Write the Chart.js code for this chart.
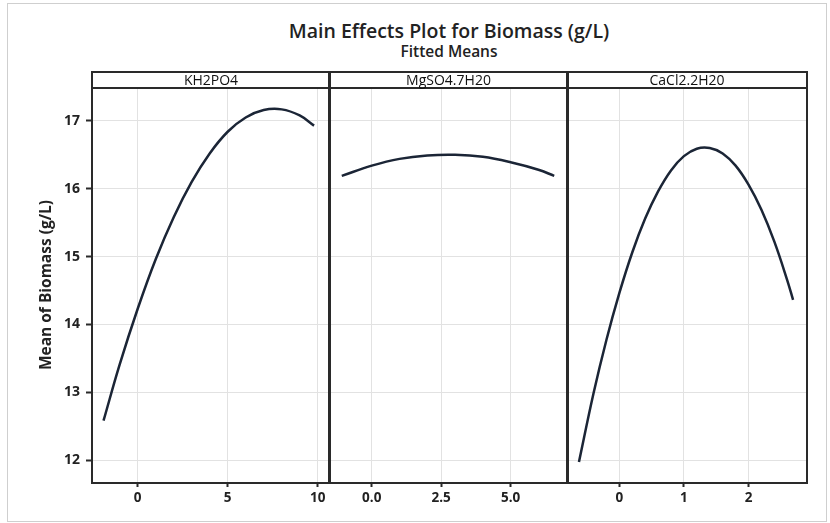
<!DOCTYPE html>
<html><head><meta charset="utf-8">
<script src="https://cdn.jsdelivr.net/npm/chart.js@4.4.1/dist/chart.umd.min.js"></script>
<style>
body{margin:0;background:#fff;width:830px;height:523px;position:relative;overflow:hidden;font-family:"Open Sans",sans-serif;}
.abs{position:absolute;}
#border{left:7px;top:3px;width:820px;height:519px;border:1px solid #cfcfcf;box-sizing:border-box;}
#title{left:92px;width:714px;top:19px;text-align:center;font-size:19.5px;font-weight:600;color:#222;line-height:24px;}
#subtitle{left:92px;width:714px;top:42px;text-align:center;font-size:15.5px;font-weight:600;color:#222;line-height:19px;}
.strip{top:71px;height:18px;border:2px solid #2a2a2a;box-sizing:border-box;text-align:center;font-size:14px;line-height:14px;color:#111;}
.frame{top:71px;height:413px;border:2px solid #2a2a2a;box-sizing:border-box;pointer-events:none;}
canvas{position:absolute;}
</style>
</head><body>
<div id="border" class="abs"></div>
<div id="title" class="abs">Main Effects Plot for Biomass (g/L)</div>
<div id="subtitle" class="abs">Fitted Means</div>
<canvas id="c1" width="330" height="425" style="left:0px;top:80px"></canvas>
<canvas id="c2" width="239" height="425" style="left:329px;top:80px"></canvas>
<canvas id="c3" width="240" height="425" style="left:567px;top:80px"></canvas>
<div class="abs frame" style="left:91px;width:240px"></div>
<div class="abs frame" style="left:328px;width:241px"></div>
<div class="abs frame" style="left:566px;width:242px"></div>
<div class="abs strip" style="left:91px;width:240px" id="h1"></div>
<div class="abs strip" style="left:328px;width:241px" id="h2"></div>
<div class="abs strip" style="left:566px;width:242px" id="h3"></div>
<script>
// ---- data ----
const factors = ["KH2PO4", "MgSO4.7H20", "CaCl2.2H20"];
const yTitle = "Mean of Biomass (g/L)";
const yTicks = [12, 13, 14, 15, 16, 17];

const khX = [-1.9, -1, 0, 1, 2, 3, 4, 5, 6, 7, 8, 9, 9.8];
const khY = [12.58, 13.41, 14.23, 14.96, 15.58, 16.10, 16.52, 16.84, 17.05, 17.16, 17.17, 17.08, 16.93];

const mgX = [-1.08, 0, 1, 2, 3, 4, 5, 6, 6.57];
const mgY = [16.19, 16.34, 16.44, 16.49, 16.50, 16.47, 16.39, 16.28, 16.19];

const caX = [-0.625, -0.4, -0.2, 0, 0.2, 0.4, 0.6, 0.8, 1.0, 1.2, 1.4, 1.6, 1.8, 2.0, 2.2, 2.4, 2.6, 2.69];
const caY = [11.97, 12.98, 13.77, 14.46, 15.06, 15.56, 15.96, 16.27, 16.48, 16.59, 16.60, 16.52, 16.34, 16.06, 15.69, 15.22, 14.65, 14.36];

const xTicks1 = [0, 5, 10];
const xTickLabels1 = ["0", "5", "10"];
const xTicks2 = [0, 2.5, 5];
const xTickLabels2 = ["0.0", "2.5", "5.0"];
const xTicks3 = [0, 1, 2];
const xTickLabels3 = ["0", "1", "2"];

// ---- rendering ----
document.getElementById('h1').textContent = factors[0];
document.getElementById('h2').textContent = factors[1];
document.getElementById('h3').textContent = factors[2];

const FONT = '"Open Sans", sans-serif';
const GRID = '#e2e2e2';
const LINE = '#1b2536';
const Y_MIN = 11.676, Y_MAX = 17.485;

function makePanel(id, xs, ys, xMin, xMax, xt, xtl, showY) {
  const pts = xs.map((x, i) => ({x: x, y: ys[i]}));
  return new Chart(document.getElementById(id), {
    type: 'line',
    data: {datasets: [{data: pts, borderColor: LINE, borderWidth: 2.5, pointRadius: 0,
      tension: 0.4, fill: false}]},
    options: {
      responsive: false, animation: false, devicePixelRatio: 1,
      layout: {padding: {top: 8, right: 1, left: 0, bottom: 0}},
      plugins: {legend: {display: false}, tooltip: {enabled: false}},
      scales: {
        x: {
          type: 'linear', min: xMin, max: xMax,
          afterBuildTicks: s => { s.ticks = xt.map(v => ({value: v})); },
          afterFit: s => { s.height = 23; s.paddingLeft = 0; s.paddingRight = 0; },
          grid: {color: GRID, lineWidth: 1, tickColor: '#2a2a2a', tickLength: 5, tickWidth: 2},
          border: {display: false},
          ticks: {padding: 3, color: '#222', font: {family: FONT, size: 13.5, weight: 'bold'},
            maxRotation: 0, autoSkip: false,
            callback: (v) => { const k = xt.indexOf(v); return k >= 0 ? xtl[k] : ''; }}
        },
        y: {
          type: 'linear', min: Y_MIN, max: Y_MAX,
          afterBuildTicks: s => { s.ticks = yTicks.map(v => ({value: v})); },
          afterFit: s => { s.width = showY ? 92 : 0; s.paddingTop = 0; s.paddingBottom = 0; },
          grid: {color: GRID, lineWidth: 1, drawTicks: showY, tickColor: '#2a2a2a', tickLength: 6, tickWidth: 2},
          border: {display: false},
          ticks: {display: showY, padding: 6, color: '#222', font: {family: FONT, size: 14, weight: 'bold'},
            autoSkip: false},
          title: {display: showY, text: yTitle, color: '#222',
            font: {family: FONT, size: 15.5, weight: 'bold'}, padding: {top: 37, bottom: 0}}
        }
      }
    }
  });
}

makePanel('c1', khX, khY, -2.54, 10.63, xTicks1, xTickLabels1, true);
makePanel('c2', mgX, mgY, -1.54, 7.03, xTicks2, xTickLabels2, false);
makePanel('c3', caX, caY, -0.81, 2.89, xTicks3, xTickLabels3, false);
</script>
</body></html>
